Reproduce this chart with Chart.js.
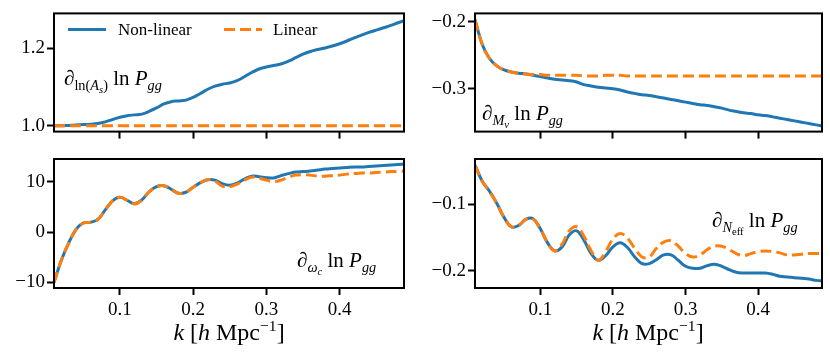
<!DOCTYPE html>
<html>
<head>
<meta charset="utf-8">
<script src="https://cdn.jsdelivr.net/npm/chart.js@4"></script>
<style>
  body { margin: 0; background: #fff; }
  #wrap { position: relative; width: 830px; height: 355px; overflow: hidden; font-family: "Liberation Serif", serif; }
  canvas { position: absolute; }
  .note { position: absolute; font-size: 21px; line-height: 1; white-space: nowrap; color: #000; }
  .note sub { font-size: 0.68em; vertical-align: -0.32em; line-height: 0; }
  .note sub sub { font-size: 0.75em; vertical-align: -0.25em; }
  .xt { position: absolute; top: 320px; width: 300px; text-align: center; font-size: 24px; line-height: 1; white-space: nowrap; }
  .xt sup { font-size: 0.65em; vertical-align: 0.55em; line-height: 0; }
  .leg { position: absolute; font-size: 17px; line-height: 1; white-space: nowrap; }
  .sw { position: absolute; height: 3px; }
</style>
</head>
<body>
<div id="wrap">
  <canvas id="pA" width="415" height="145" style="left:0;top:0"></canvas>
  <canvas id="pB" width="415" height="145" style="left:415px;top:0"></canvas>
  <canvas id="pC" width="415" height="210" style="left:0;top:145px"></canvas>
  <canvas id="pD" width="415" height="210" style="left:415px;top:145px"></canvas>

  <div class="sw" style="left:68px;top:28px;width:38px;background:#1f77b4"></div>
  <div class="leg" style="left:118px;top:21px">Non-linear</div>
  <div class="sw" style="left:224px;top:28px;width:38px;background:repeating-linear-gradient(90deg,#ff7f0e 0 11px,transparent 11px 16px)"></div>
  <div class="leg" style="left:273px;top:21px">Linear</div>

  <div class="note" style="left:64px;top:68px">∂<sub>ln(<i>A</i><sub><i>s</i></sub>)</sub> ln <i>P</i><sub><i>gg</i></sub></div>
  <div class="note" style="left:482px;top:103px">∂<sub><i>M</i><sub><i>ν</i></sub></sub> ln <i>P</i><sub><i>gg</i></sub></div>
  <div class="note" style="left:297px;top:250px">∂<sub><i>ω</i><sub><i>c</i></sub></sub> ln <i>P</i><sub><i>gg</i></sub></div>
  <div class="note" style="left:712px;top:210px">∂<sub><i>N</i><sub>eff</sub></sub> ln <i>P</i><sub><i>gg</i></sub></div>

  <div class="xt" style="left:79px"><i>k</i> [<i>h</i> Mpc<sup>−1</sup>]</div>
  <div class="xt" style="left:498px"><i>k</i> [<i>h</i> Mpc<sup>−1</sup>]</div>
</div>
<script>
const k = [0.01,0.02,0.03,0.04,0.05,0.06,0.07,0.08,0.09,0.10,
  0.11,0.12,0.13,0.14,0.15,0.16,0.17,0.18,0.19,0.20,
  0.21,0.22,0.23,0.24,0.25,0.26,0.27,0.28,0.29,0.30,
  0.31,0.32,0.33,0.34,0.35,0.36,0.37,0.38,0.39,0.40,
  0.41,0.42,0.43,0.44,0.45,0.46,0.47,0.48,0.49];

const xTicks = [0.1, 0.2, 0.3, 0.4];

// d ln P / d ln(As)
const asNonlin = [1.000,1.000,1.001,1.002,1.003,1.004,1.006,1.010,1.016,1.022,
  1.026,1.028,1.030,1.037,1.046,1.056,1.062,1.064,1.066,1.073,
  1.083,1.094,1.102,1.107,1.110,1.116,1.126,1.137,1.146,1.151,
  1.155,1.159,1.166,1.175,1.184,1.191,1.196,1.200,1.205,1.211,
  1.218,1.226,1.233,1.240,1.246,1.252,1.258,1.265,1.271];
const asLin = [1.0,1.0,1.0,1.0,1.0,1.0,1.0,1.0,1.0,1.0,
  1.0,1.0,1.0,1.0,1.0,1.0,1.0,1.0,1.0,1.0,
  1.0,1.0,1.0,1.0,1.0,1.0,1.0,1.0,1.0,1.0,
  1.0,1.0,1.0,1.0,1.0,1.0,1.0,1.0,1.0,1.0,
  1.0,1.0,1.0,1.0,1.0,1.0,1.0,1.0,1.0];
const asTicks = [1.0, 1.2];

// d ln P / d Mnu
const mnuNonlin = [-0.197,-0.234,-0.255,-0.266,-0.272,-0.275,-0.277,-0.278,-0.280,-0.282,
  -0.284,-0.286,-0.287,-0.288,-0.290,-0.294,-0.296,-0.298,-0.299,-0.300,
  -0.302,-0.305,-0.307,-0.309,-0.310,-0.312,-0.314,-0.316,-0.318,-0.320,
  -0.322,-0.324,-0.325,-0.327,-0.329,-0.332,-0.334,-0.336,-0.337,-0.339,
  -0.340,-0.342,-0.344,-0.346,-0.348,-0.350,-0.352,-0.354,-0.356];
const mnuLin = [-0.197,-0.234,-0.255,-0.266,-0.272,-0.275,-0.277,-0.278,-0.279,-0.279,
  -0.280,-0.280,-0.280,-0.280,-0.280,-0.281,-0.281,-0.281,-0.280,-0.280,
  -0.280,-0.281,-0.281,-0.281,-0.281,-0.281,-0.281,-0.281,-0.281,-0.281,
  -0.281,-0.281,-0.281,-0.281,-0.281,-0.281,-0.281,-0.281,-0.281,-0.281,
  -0.281,-0.281,-0.281,-0.281,-0.281,-0.281,-0.281,-0.281,-0.281];
const mnuTicks = [-0.3, -0.2];

// d ln P / d omega_c
const ocNonlin = [-10.0,-5.6,-2.2,0.5,1.8,1.95,2.5,4.4,6.2,6.9,
  6.3,5.6,6.4,8.0,9.0,9.2,8.5,7.7,7.9,8.9,
  9.8,10.4,10.3,9.6,9.3,9.7,10.5,11.1,11.0,10.8,
  10.75,11.2,11.6,11.9,12.0,12.1,12.3,12.5,12.6,12.7,
  12.8,12.9,12.9,13.0,13.1,13.2,13.3,13.4,13.5];
const ocLin = [-10.0,-5.6,-2.2,0.5,1.8,1.95,2.5,4.4,6.2,6.9,
  6.3,5.6,6.4,8.0,9.0,9.2,8.5,7.7,7.9,8.9,
  9.8,10.4,10.1,9.1,9.0,9.5,10.3,10.9,10.7,10.3,
  10.0,10.3,10.9,11.3,11.4,11.3,11.1,11.1,11.2,11.3,
  11.5,11.6,11.7,11.7,11.8,11.9,12.0,12.0,12.1];
const ocTicks = [-10, 0, 10];

// d ln P / d Neff
const neffNonlin = [-0.042,-0.066,-0.081,-0.099,-0.120,-0.134,-0.132,-0.123,-0.122,-0.137,
  -0.158,-0.170,-0.164,-0.146,-0.140,-0.154,-0.174,-0.184,-0.177,-0.164,
  -0.158,-0.165,-0.179,-0.189,-0.189,-0.183,-0.176,-0.176,-0.184,-0.193,
  -0.196,-0.196,-0.192,-0.190,-0.193,-0.198,-0.202,-0.203,-0.203,-0.203,
  -0.203,-0.205,-0.208,-0.209,-0.210,-0.211,-0.212,-0.214,-0.215];
const neffLin = [-0.042,-0.066,-0.081,-0.099,-0.120,-0.134,-0.132,-0.123,-0.122,-0.137,
  -0.158,-0.170,-0.160,-0.140,-0.134,-0.148,-0.170,-0.184,-0.171,-0.152,
  -0.144,-0.151,-0.166,-0.179,-0.179,-0.166,-0.157,-0.155,-0.163,-0.174,
  -0.179,-0.176,-0.168,-0.163,-0.163,-0.168,-0.174,-0.177,-0.174,-0.171,
  -0.170,-0.171,-0.173,-0.176,-0.176,-0.175,-0.174,-0.174,-0.174];
const neffTicks = [-0.2, -0.1];

const serif = "'Liberation Serif', serif";

// black box around the plot area, like matplotlib spines
const framePlugin = {
  id: 'frame',
  afterDatasetsDraw(chart) {
    const a = chart.chartArea;
    const ctx = chart.ctx;
    ctx.save();
    ctx.lineWidth = 2;
    ctx.strokeStyle = '#000';
    ctx.strokeRect(a.left, a.top, a.right - a.left, a.bottom - a.top);
    ctx.restore();
  }
};

function fmt(v, dec) {
  return (v < 0 ? '\u2212' : '') + Math.abs(v).toFixed(dec);
}

function makePanel(id, nonlin, lin, yMin, yMax, yTicks, dec, box) {
  const toPts = arr => k.map((x, i) => ({ x: x, y: arr[i] }));
  return new Chart(document.getElementById(id), {
    type: 'line',
    data: {
      datasets: [{
        label: 'Non-linear',
        data: toPts(nonlin),
        borderColor: '#1f77b4',
        borderWidth: 3,
        pointRadius: 0,
        tension: 0.4,
        order: 2
      }, {
        label: 'Linear',
        data: toPts(lin),
        borderColor: '#ff7f0e',
        borderWidth: 3,
        borderDash: [11, 5],
        pointRadius: 0,
        tension: 0.4,
        order: 1
      }]
    },
    options: {
      responsive: false,
      animation: false,
      devicePixelRatio: 1,
      layout: { padding: { top: box.top, right: box.right, left: 0, bottom: 0 } },
      plugins: { legend: { display: false }, tooltip: { enabled: false } },
      scales: {
        x: {
          type: 'linear',
          min: 0.01,
          max: 0.488,
          border: { display: false },
          grid: { drawOnChartArea: false, drawTicks: true, tickLength: 7, tickWidth: 2, tickColor: '#000' },
          ticks: {
            display: box.xLabels,
            color: '#000',
            padding: 4,
            maxRotation: 0,
            font: { family: serif, size: 19 },
            callback: v => fmt(v, 1)
          },
          afterBuildTicks: s => { s.ticks = xTicks.map(v => ({ value: v })); },
          afterFit: s => { s.height = box.xh; }
        },
        y: {
          type: 'linear',
          min: yMin,
          max: yMax,
          border: { display: false },
          grid: { drawOnChartArea: false, drawTicks: true, tickLength: 7, tickWidth: 2, tickColor: '#000' },
          ticks: {
            color: '#000',
            padding: 2,
            font: { family: serif, size: 19 },
            callback: v => fmt(v, dec)
          },
          afterBuildTicks: s => { s.ticks = yTicks.map(v => ({ value: v })); },
          afterFit: s => { s.width = box.yw; }
        }
      }
    },
    plugins: [framePlugin]
  });
}

const chartAs = makePanel('pA', asNonlin, asLin, 0.985, 1.289, asTicks, 1,
  { top: 5, right: 11, yw: 54, xh: 11, xLabels: false });
const chartMnu = makePanel('pB', mnuNonlin, mnuLin, -0.364, -0.1877, mnuTicks, 1,
  { top: 5, right: 8, yw: 60, xh: 11, xLabels: false });
const chartOc = makePanel('pC', ocNonlin, ocLin, -11.1, 14.5, ocTicks, 0,
  { top: 14, right: 11, yw: 54, xh: 67, xLabels: true });
const chartNeff = makePanel('pD', neffNonlin, neffLin, -0.2254, -0.0328, neffTicks, 1,
  { top: 14, right: 8, yw: 60, xh: 67, xLabels: true });
</script>
</body>
</html>
